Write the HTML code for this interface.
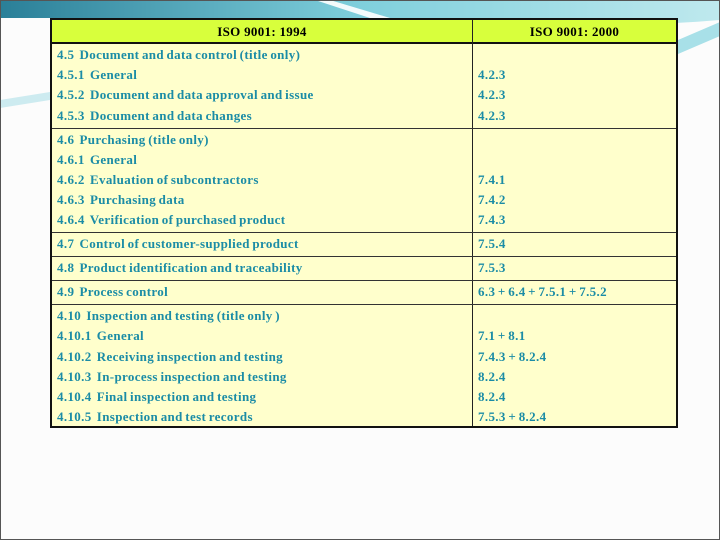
<!DOCTYPE html>
<html><head><meta charset="utf-8">
<style>
html,body{margin:0;padding:0}
body{width:720px;height:540px;position:relative;overflow:hidden;background:#fcfcfc;font-family:"Liberation Serif",serif}
.frame{position:absolute;left:0;top:0;width:718px;height:538px;border:1px solid #555}
.tbl{position:absolute;left:50px;top:18px;width:624px;height:406px;border:2px solid #111;background:#ffffcc}
.hdr{position:absolute;left:0;top:0;width:624px;height:22px;background:#d8ff3c;border-bottom:2px solid #111}
.vline{position:absolute;left:420px;top:0;width:1px;height:406px;background:#222}
.hline{position:absolute;left:0;width:624px;height:1px;background:#333}
.t{position:absolute;font-size:13px;font-weight:bold;color:#1b8ca6;white-space:nowrap;line-height:14px;letter-spacing:0.35px;word-spacing:-1px}
.h{position:absolute;font-size:13px;font-weight:bold;color:#000;top:4px;white-space:nowrap;text-align:center;letter-spacing:0.3px}
</style></head><body>
<svg style="position:absolute;left:0;top:0" width="720" height="120">
<defs><linearGradient id="g" x1="0" x2="1"><stop offset="0" stop-color="#2a7f98"/><stop offset="0.5" stop-color="#7fcfdc"/><stop offset="1" stop-color="#bfe9ee"/></linearGradient></defs>
<path d="M0 0 H720 V20 C600 30 520 22 470 18 L0 18 Z" fill="url(#g)"/>
<path d="M330 0 L390 18 L370 18 L315 0 Z" fill="#ffffff" opacity="0.9"/>
<path d="M678 40 L720 22 V36 L678 54 Z" fill="#a8e0e8"/>
<path d="M0 100 L50 92 L50 100 L0 108 Z" fill="#cdebf0"/>
</svg>
<div class="frame"></div>
<div class="tbl">
 <div class="hdr">
  <span class="h" style="left:0;width:420px">ISO 9001: 1994</span>
  <span class="h" style="left:421px;width:203px">ISO 9001: 2000</span>
 </div>
 <div class="vline"></div>
 <div class="hline" style="top:108px"></div>
 <div class="hline" style="top:212px"></div>
 <div class="hline" style="top:236px"></div>
 <div class="hline" style="top:260px"></div>
 <div class="hline" style="top:284px"></div>

 <span class="t" style="left:5px;top:28px">4.5&nbsp; Document and data control (title only)</span>
 <span class="t" style="left:5px;top:48px">4.5.1&nbsp; General</span>
 <span class="t" style="left:5px;top:68px">4.5.2&nbsp; Document and data approval and issue</span>
 <span class="t" style="left:5px;top:89px">4.5.3&nbsp; Document and data changes</span>
 <span class="t" style="left:426px;top:48px">4.2.3</span>
 <span class="t" style="left:426px;top:68px">4.2.3</span>
 <span class="t" style="left:426px;top:89px">4.2.3</span>

 <span class="t" style="left:5px;top:113px">4.6&nbsp; Purchasing (title only)</span>
 <span class="t" style="left:5px;top:133px">4.6.1&nbsp; General</span>
 <span class="t" style="left:5px;top:153px">4.6.2&nbsp; Evaluation of subcontractors</span>
 <span class="t" style="left:5px;top:173px">4.6.3&nbsp; Purchasing data</span>
 <span class="t" style="left:5px;top:193px">4.6.4&nbsp; Verification of purchased product</span>
 <span class="t" style="left:426px;top:153px">7.4.1</span>
 <span class="t" style="left:426px;top:173px">7.4.2</span>
 <span class="t" style="left:426px;top:193px">7.4.3</span>

 <span class="t" style="left:5px;top:217px">4.7&nbsp; Control of customer-supplied product</span>
 <span class="t" style="left:426px;top:217px">7.5.4</span>
 <span class="t" style="left:5px;top:241px">4.8&nbsp; Product identification and traceability</span>
 <span class="t" style="left:426px;top:241px">7.5.3</span>
 <span class="t" style="left:5px;top:265px">4.9&nbsp; Process control</span>
 <span class="t" style="left:426px;top:265px">6.3 + 6.4 + 7.5.1 + 7.5.2</span>

 <span class="t" style="left:5px;top:289px">4.10&nbsp; Inspection and testing (title only )</span>
 <span class="t" style="left:5px;top:309px">4.10.1&nbsp; General</span>
 <span class="t" style="left:5px;top:330px">4.10.2&nbsp; Receiving inspection and testing</span>
 <span class="t" style="left:5px;top:350px">4.10.3&nbsp; In-process inspection and testing</span>
 <span class="t" style="left:5px;top:370px">4.10.4&nbsp; Final inspection and testing</span>
 <span class="t" style="left:5px;top:390px">4.10.5&nbsp; Inspection and test records</span>
 <span class="t" style="left:426px;top:309px">7.1 + 8.1</span>
 <span class="t" style="left:426px;top:330px">7.4.3 + 8.2.4</span>
 <span class="t" style="left:426px;top:350px">8.2.4</span>
 <span class="t" style="left:426px;top:370px">8.2.4</span>
 <span class="t" style="left:426px;top:390px">7.5.3 + 8.2.4</span>
</div>
</body></html>
